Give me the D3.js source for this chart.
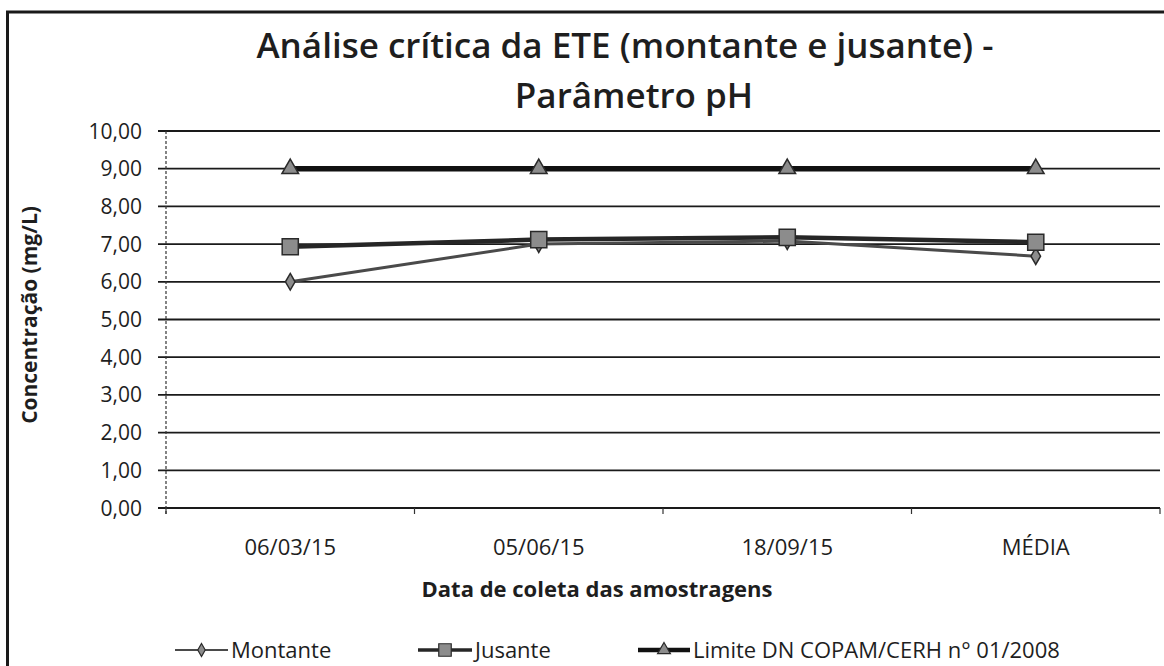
<!DOCTYPE html>
<html>
<head>
<meta charset="utf-8">
<script src="https://cdn.jsdelivr.net/npm/d3@7"></script>
<style>
  body { margin: 0; background: #fff; }
  svg { display: block; }
  text { font-family: "Open Sans", "Noto Sans", sans-serif; fill: #1e1e1e; }
</style>
</head>
<body>
<svg width="1164" height="666"></svg>
<script>
  // valores
  var categories = ['06/03/15', '05/06/15', '18/09/15', 'MÉDIA'];
  var montante = [6.00, 7.00, 7.08, 6.68];
  var jusante = [6.93, 7.12, 7.18, 7.05];
  var limite = [9.00, 9.00, 9.00, 9.00];
  var yTicks = [0, 1, 2, 3, 4, 5, 6, 7, 8, 9, 10];
  var seriesNames = ['Montante', 'Jusante', 'Limite DN COPAM/CERH n° 01/2008'];

(function (d3) {
  'use strict';

  var svg = d3.select('svg');
  var plotLeft = 166, plotRight = 1160, plotTop = 131, plotBottom = 508;

  // moldura
  svg.append('path')
    .attr('d', 'M7.5,666 L7.5,12 L1164,12')
    .attr('fill', 'none').attr('stroke', '#1a1a1a').attr('stroke-width', 3);

  var x = d3.scalePoint().domain(categories).range([plotLeft, plotRight]).padding(0.5);
  var y = d3.scaleLinear().domain([0, 10]).range([plotBottom, plotTop]);

  var fmt = function (d) { return d3.format('.2f')(d).replace('.', ','); };

  // grade horizontal
  svg.append('g').selectAll('line').data(yTicks).enter().append('line')
    .attr('x1', plotLeft - 8).attr('x2', plotRight)
    .attr('y1', function (d) { return y(d); }).attr('y2', function (d) { return y(d); })
    .attr('stroke', '#1a1a1a').attr('stroke-width', 1.8);

  // eixo y (pontilhado)
  svg.append('line')
    .attr('x1', plotLeft).attr('x2', plotLeft).attr('y1', plotTop).attr('y2', plotBottom + 6)
    .attr('stroke', '#333').attr('stroke-width', 1.2).attr('stroke-dasharray', '3,2');

  svg.append('g').selectAll('text').data(yTicks).enter().append('text')
    .attr('x', plotLeft - 24).attr('y', function (d) { return y(d); })
    .attr('dy', '0.36em').attr('text-anchor', 'end')
    .style('font-size', '21px')
    .text(fmt);

  // ticks do eixo x
  var step = x.step();
  var bounds = d3.range(categories.length + 1).map(function (i) { return plotLeft + i * step; });
  svg.append('g').selectAll('line').data(bounds).enter().append('line')
    .attr('x1', function (d) { return d; }).attr('x2', function (d) { return d; })
    .attr('y1', plotBottom).attr('y2', plotBottom + 6)
    .attr('stroke', '#333').attr('stroke-width', 1.2);

  svg.append('g').selectAll('text').data(categories).enter().append('text')
    .attr('x', function (d) { return x(d); }).attr('y', 555)
    .attr('text-anchor', 'middle')
    .style('font-size', '22px')
    .text(function (d) { return d; });

  // titulos
  svg.append('text').attr('x', 625).attr('y', 58).attr('text-anchor', 'middle')
    .style('font-size', '35px').style('font-weight', 600)
    .text('Análise crítica da ETE (montante e jusante) -');
  svg.append('text').attr('x', 634).attr('y', 108).attr('text-anchor', 'middle')
    .style('font-size', '35px').style('font-weight', 600)
    .text('Parâmetro pH');
  svg.append('text').attr('x', 597).attr('y', 597).attr('text-anchor', 'middle')
    .style('font-size', '22px').style('font-weight', 700)
    .text('Data de coleta das amostragens');
  svg.append('text')
    .attr('transform', 'translate(30,315) rotate(-90)')
    .attr('text-anchor', 'middle').attr('dy', '0.35em')
    .style('font-size', '21px').style('font-weight', 700)
    .text('Concentração (mg/L)');

  // series
  var line = d3.line()
    .x(function (d, i) { return x(categories[i]); })
    .y(function (d) { return y(d); });

  var series = [
    {name: seriesNames[0], values: montante, stroke: '#4a4a4a', width: 3, shape: d3.symbolDiamond, size: 80},
    {name: seriesNames[1], values: jusante, stroke: '#262626', width: 4.5, shape: d3.symbolSquare, size: 260},
    {name: seriesNames[2], values: limite, stroke: '#111', width: 5.5, shape: d3.symbolTriangle, size: 120}
  ];

  series.forEach(function (s) {
    svg.append('path').datum(s.values)
      .attr('d', line)
      .attr('fill', 'none').attr('stroke', s.stroke).attr('stroke-width', s.width);
    svg.append('g').selectAll('path').data(s.values).enter().append('path')
      .attr('transform', function (d, i) { return 'translate(' + x(categories[i]) + ',' + y(d) + ')'; })
      .attr('d', d3.symbol().type(s.shape).size(s.size))
      .attr('fill', '#8c8c8c').attr('stroke', '#2a2a2a').attr('stroke-width', 1.5);
  });

  // legenda
  var legX = [175, 418, 638];
  var legW = [53, 54, 52];
  var legend = svg.append('g');
  series.forEach(function (s, i) {
    var g = legend.append('g').attr('transform', 'translate(' + legX[i] + ',650)');
    g.append('line').attr('x1', 0).attr('x2', legW[i])
      .attr('stroke', s.stroke).attr('stroke-width', s.width - 1);
    g.append('path').attr('transform', 'translate(' + legW[i] / 2 + ',0)')
      .attr('d', d3.symbol().type(s.shape).size(s.size * 0.6))
      .attr('fill', '#8c8c8c').attr('stroke', '#2a2a2a').attr('stroke-width', 1.2);
    g.append('text').attr('x', legW[i] + 3).attr('dy', '0.36em')
      .style('font-size', '22px').text(s.name);
  });

}(d3));
</script>
</body>
</html>
